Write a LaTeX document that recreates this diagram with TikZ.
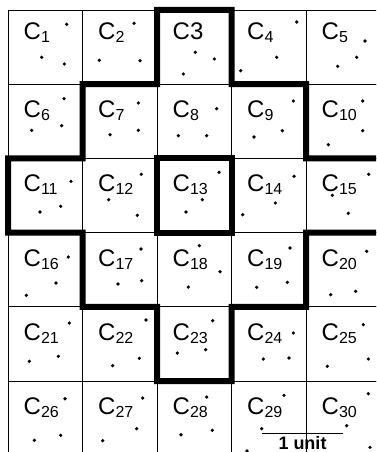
\documentclass[tikz,border=0pt]{standalone}
\usepackage{fontspec}
\setmainfont{Liberation Sans}
\usetikzlibrary{calc}

\newcommand{\cellname}[1]{C\raisebox{-3pt}{\fontsize{16}{16}\selectfont #1}}

\begin{document}
\begin{tikzpicture}[
  x=1pt, y=-1pt,
  line join=miter,
  cell/.style={
    rectangle, draw=black, line width=0.9pt,
    minimum width=74.5pt, minimum height=74.2pt,
    inner sep=0pt, outer sep=0pt, anchor=north west
  },
  celllbl/.style={anchor=base west, inner sep=0pt, font=\fontsize{24}{24}\selectfont},
  outline/.style={draw=black, line width=6pt, line cap=rect},
  pt/.style={fill=black},
  scalebar/.style={draw=black, line width=1pt},
  unitlbl/.style={anchor=base, inner sep=0pt, font=\fontsize{18}{18}\selectfont\bfseries}
]

% =========================================================================
% Okno (orezaný výrez mriežky)
% =========================================================================
\clip (0,0) rectangle (376,452);

% =========================================================================
% Bunky C1 -- C30
% =========================================================================
\foreach \r in {1,...,6} {
  \foreach \c in {1,...,5} {
    \pgfmathtruncatemacro{\n}{(\r-1)*5+\c}
    \pgfmathsetmacro{\b}{\r==1 ? 30 : 33.5}
    \node[cell] (c\n) at ({8+74.5*(\c-1)}, {10+74.2*(\r-1)}) {};
    \node[celllbl] (l\n) at ($(c\n.north west)+(15.5,\b)$)
      {\ifnum\n=3 C3\else\cellname{\n}\fi};
  }
}

% =========================================================================
% Hrubý obrys (kosoštvorec okolo C13) a samotná C13
% =========================================================================
\draw[outline] (c3.north west) -- (c3.north east) -- (c9.north west)
  -- (c9.north east) -- (c9.south east) -- (c15.north east)
  -- (c15.south east) -- (c15.south west) -- (c19.south east)
  -- (c19.south west) -- (c23.south east) -- (c23.south west)
  -- (c23.north west) -- (c17.south west) -- (c17.north west)
  -- (c11.south west) -- (c11.north west) -- (c11.north east)
  -- (c7.north west) -- (c7.north east) -- cycle;
\draw[outline] (c13.north west) rectangle (c13.south east);

% =========================================================================
% Body
% =========================================================================
\foreach \px/\py in {
  66.7/24.3, 41.7/57.3, 64.3/64,       134/23.3, 99.3/60.3, 140/60.7,
  195.3/52.3, 214.3/59, 183.3/74,      296.7/22, 276.7/57.3, 240.7/70.7,
  365/41, 356.7/57.3, 337.7/66.3,
  64/98.7, 61.7/125.7, 31.7/130.3,     138.3/103, 138.3/130.3, 110/134.7,
  216.7/108.7, 206.7/135.7, 178.3/135.7, 293.3/101, 282.3/130.7, 254/137,
  362.7/101, 362.7/130.7, 328.3/144.7,
  71/181.3, 60.7/206.3, 40/212,        141.3/174.3, 108.7/199.7, 137.3/215.3,
  219/172.3, 202.3/199.7, 186/212,     294/176.3, 275.3/203, 242.7/214.7,
  368.7/174.3, 332.3/195.3, 348.3/213.3,
  68.3/257, 56/283, 26.3/295.3,        141/249, 141.7/280.7, 118/284,
  199.3/245.7, 220/271.7, 188.3/287,   290/248, 287.3/282.3, 256.7/287.3,
  366.7/251.3, 355.7/291.3, 330.7/294.7,
  69.3/323, 58.3/356.3, 29.3/361.3,    146/320, 139.3/358.3, 112.7/365.7,
  212.7/320.7, 205.7/349.7, 177.3/353, 293.3/333, 289/358, 263.3/359,
  363.3/324.7, 368.3/359, 327.3/366.3,
  65/398.7, 60.7/435.3, 34.3/440.3,    142.7/398, 136.7/428.7, 102.7/440.7,
  206.7/397, 212.3/430.3, 181/434.7,   284/395.3, 261.7/428.7, 247/451,
  368.3/393.7, 346.7/425.7, 370/447.3}
  \fill[pt] (\px,\py) circle (1.8pt);

% =========================================================================
% Mierka
% =========================================================================
\coordinate (unitL) at (262,433);
\coordinate (unitR) at (343,433);
\draw[scalebar] (unitL) -- (unitR);
\node[unitlbl] (unit) at ($(unitL)!0.5!(unitR)+(0,16.5)$) {1 unit};

\end{tikzpicture}
\end{document}
